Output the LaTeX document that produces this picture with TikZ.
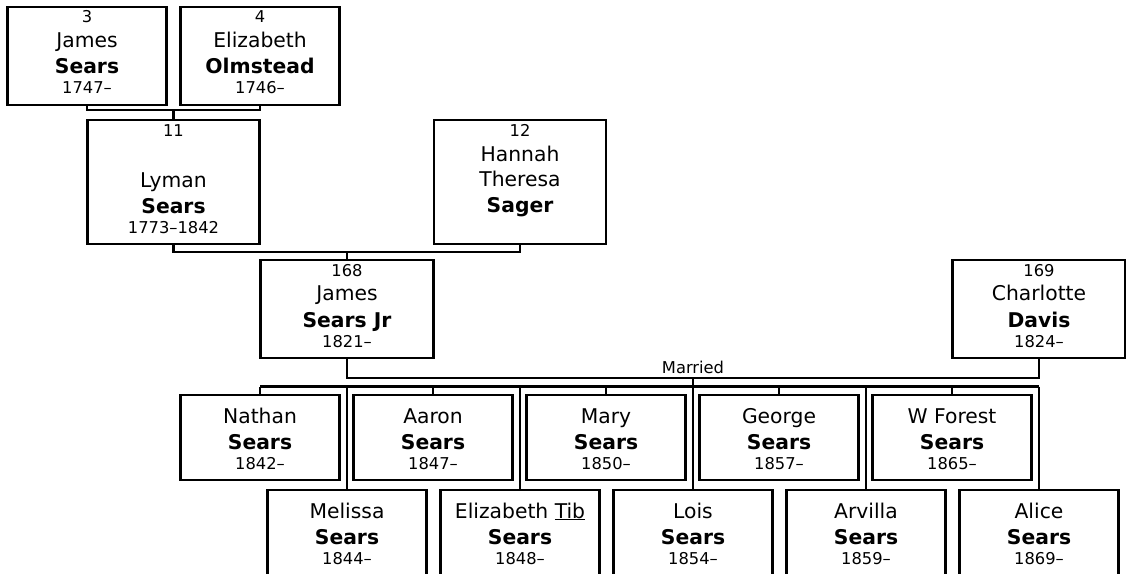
\documentclass[tikz,border=0pt]{standalone}
\usepackage{fontspec}
\setmainfont{DejaVu Sans}
\tikzset{
  box/.style={draw=black, line width=2.2pt, fill=white, inner sep=0pt, anchor=north},
  conn/.style={draw=black, line width=2.2pt},
  numtxt/.style={anchor=base, inner sep=0pt, font=\fontsize{16.3}{19}\selectfont},
  nametxt/.style={anchor=base, inner sep=0pt, font=\fontsize{20.3}{24}\selectfont},
  surtxt/.style={anchor=base, inner sep=0pt, font=\fontsize{20.3}{24}\selectfont\bfseries},
}
\newcommand\pbox[5]{\node[box, minimum width=#4pt, minimum height=#5pt] (#1) at (#2,#3) {};}
\newcommand\tline[5]{\node[#2] (#1) at ([yshift=-#4pt]#3.north) {#5};}
\begin{document}
\begin{tikzpicture}[x=1pt,y=-1pt]
\useasboundingbox (0,0) rectangle (1126,573);
\clip (0,0) rectangle (1126,573);
% ---------- generation 1
\pbox{p3}{87}{6}{159}{98}
\tline{p3a}{numtxt}{p3}{16.5}{3}
\tline{p3b}{nametxt}{p3}{41.5}{James}
\tline{p3c}{surtxt}{p3}{67.5}{Sears}
\tline{p3d}{numtxt}{p3}{87}{1747–}
\pbox{p4}{260}{6}{159}{98}
\tline{p4a}{numtxt}{p4}{16.5}{4}
\tline{p4b}{nametxt}{p4}{41.5}{Elizabeth}
\tline{p4c}{surtxt}{p4}{67.5}{Olmstead}
\tline{p4d}{numtxt}{p4}{87}{1746–}
% ---------- generation 2
\pbox{p11}{173.5}{119}{172}{124}
\tline{p11a}{numtxt}{p11}{17}{11}
\tline{p11b}{nametxt}{p11}{68}{Lyman}
\tline{p11c}{surtxt}{p11}{94}{Sears}
\tline{p11d}{numtxt}{p11}{114}{1773–1842}
\pbox{p12}{520}{119}{172}{124}
\tline{p12a}{numtxt}{p12}{17}{12}
\tline{p12b}{nametxt}{p12}{42}{Hannah}
\tline{p12c}{nametxt}{p12}{67.5}{Theresa}
\tline{p12d}{surtxt}{p12}{93}{Sager}
% ---------- generation 3
\pbox{p168}{347}{259}{173}{98}
\tline{p168a}{numtxt}{p168}{17.5}{168}
\tline{p168b}{nametxt}{p168}{41.5}{James}
\tline{p168c}{surtxt}{p168}{68}{Sears Jr}
\tline{p168d}{numtxt}{p168}{88}{1821–}
\pbox{p169}{1039}{259}{173}{98}
\tline{p169a}{numtxt}{p169}{17.5}{169}
\tline{p169b}{nametxt}{p169}{41.5}{Charlotte}
\tline{p169c}{surtxt}{p169}{68}{Davis}
\tline{p169d}{numtxt}{p169}{88}{1824–}
% ---------- children, upper row
\foreach \nm/\cx/\gn/\yr in {nathan/260/Nathan/1842–, aaron/433/Aaron/1847–, mary/606/Mary/1850–, george/779/George/1857–, wforest/952/W Forest/1865–}{
  \pbox{\nm}{\cx}{394}{159}{85}
  \tline{\nm a}{nametxt}{\nm}{29}{\gn}
  \tline{\nm b}{surtxt}{\nm}{55}{Sears}
  \tline{\nm c}{numtxt}{\nm}{75}{\yr}
}
% ---------- children, lower row
\foreach \nm/\cx/\gn/\yr in {melissa/347/Melissa/1844–, elizabeth/520/{Elizabeth \underline{Tib}}/1848–, lois/693/Lois/1854–, arvilla/866/Arvilla/1859–, alice/1039/Alice/1869–}{
  \pbox{\nm}{\cx}{489}{159}{100}
  \tline{\nm a}{nametxt}{\nm}{29}{\gn}
  \tline{\nm b}{surtxt}{\nm}{55}{Sears}
  \tline{\nm c}{numtxt}{\nm}{75}{\yr}
}
% ---------- connectors
\coordinate (m1) at (173.5,110);
\draw[conn] (p3.south) |- (m1) -| (p4.south);
\draw[conn] (m1) -- (p11.north);
\coordinate (m2) at (347,252);
\draw[conn] (p11.south) |- (m2) -| (p12.south);
\draw[conn] (m2) -- (p168.north);
\coordinate (m3) at (693,378);
\draw[conn] (p168.south) |- (m3) -| (p169.south);
\node[numtxt] (married) at (693,373) {Married};
\coordinate (bl) at (260,386.5);
\coordinate (br) at (1039,386.5);
\draw[conn] (bl) -- (br);
\draw[conn] (m3) -- (lois.north);
\foreach \c in {nathan,aaron,mary,george,wforest,melissa,elizabeth,arvilla,alice}{
  \draw[conn] (\c.north |- bl) -- (\c.north);
}
\end{tikzpicture}
\end{document}
